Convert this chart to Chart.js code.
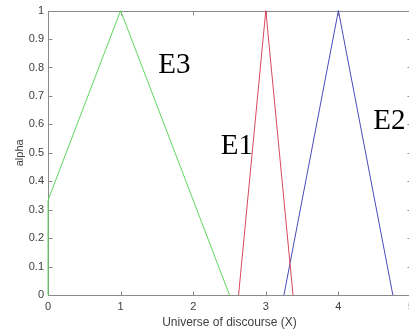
<!DOCTYPE html>
<html>
<head>
<meta charset="utf-8">
<script src="https://cdn.jsdelivr.net/npm/chart.js@4"></script>
<style>
  html, body { margin: 0; padding: 0; background: #fff; overflow: hidden; }
  #wrap { position: relative; width: 420px; height: 336px; }
</style>
</head>
<body>
<div id="wrap"><canvas id="c"></canvas></div>
<script>
// membership functions
const e3X = [0, 0, 1, 2.5];
const e3Y = [0, 0.333, 1, 0];
const e1X = [2.625, 3, 3.375];
const e1Y = [0, 1, 0];
const e2X = [3.25, 4, 4.75];
const e2Y = [0, 1, 0];

// text labels placed in data coordinates
const labelText = ['E3', 'E1', 'E2'];
const labelX = [1.52, 2.38, 4.48];
const labelY = [0.78, 0.497, 0.584];

const toPoints = (xs, ys) => xs.map((x, i) => ({ x, y: ys[i] }));

const axisColor = '#8a8a8a';

const frameAndTicks = {
  id: 'frameAndTicks',
  beforeDatasetsDraw(chart) {
    const { ctx, chartArea: a, scales: { x, y } } = chart;
    const L = Math.round(a.left) + 0.5, R = Math.round(a.right) + 0.5;
    const T = Math.round(a.top) + 0.5, B = Math.round(a.bottom) + 0.5;
    ctx.save();
    ctx.strokeStyle = axisColor;
    ctx.lineWidth = 1;
    ctx.beginPath();
    ctx.rect(L, T, R - L, B - T);
    x.ticks.forEach(t => {
      const px = Math.round(x.getPixelForValue(t.value)) + 0.5;
      ctx.moveTo(px, B); ctx.lineTo(px, B - 4);
      ctx.moveTo(px, T); ctx.lineTo(px, T + 4);
    });
    y.ticks.forEach(t => {
      const py = Math.round(y.getPixelForValue(t.value)) + 0.5;
      ctx.moveTo(L, py); ctx.lineTo(L + 4, py);
      ctx.moveTo(R, py); ctx.lineTo(R - 4, py);
    });
    ctx.stroke();
    ctx.restore();
  },
  afterDatasetsDraw(chart) {
    const { ctx, scales: { x, y } } = chart;
    ctx.save();
    ctx.fillStyle = '#000';
    ctx.font = '29px "Liberation Serif", "Times New Roman", serif';
    ctx.textBaseline = 'alphabetic';
    ctx.textAlign = 'left';
    labelText.forEach((s, i) => {
      ctx.fillText(s, x.getPixelForValue(labelX[i]), y.getPixelForValue(labelY[i]));
    });
    ctx.restore();
  }
};

const lineSet = (label, xs, ys, color) => ({
  label,
  data: toPoints(xs, ys),
  showLine: true,
  borderColor: color,
  borderWidth: 1,
  pointRadius: 0,
  tension: 0,
  fill: false,
  clip: 2
});

const tickFont = { family: '"Liberation Sans", Arial, sans-serif', size: 11 };

new Chart(document.getElementById('c'), {
  type: 'scatter',
  data: {
    datasets: [
      lineSet('E3', e3X, e3Y, '#5fd65f'),
      lineSet('E1', e1X, e1Y, '#d9475c'),
      lineSet('E2', e2X, e2Y, '#4a4ab8')
    ]
  },
  options: {
    responsive: true,
    maintainAspectRatio: false,
    animation: false,
    layout: { padding: { top: 9, right: 9, left: 0, bottom: 0 } },
    plugins: { legend: { display: false }, tooltip: { enabled: false } },
    scales: {
      x: {
        type: 'linear',
        min: 0, max: 5,
        grid: { display: false, drawTicks: false },
        border: { display: false },
        ticks: { stepSize: 1, padding: 5, color: '#404040', font: tickFont },
        title: { display: true, text: 'Universe of discourse (X)', color: '#404040', padding: { top: 0, bottom: 6 }, font: { family: tickFont.family, size: 12 } },
        afterFit(s) { s.height = 41; }
      },
      y: {
        min: 0, max: 1,
        grid: { display: false, drawTicks: false },
        border: { display: false },
        ticks: {
          stepSize: 0.1, padding: 4, color: '#404040', font: tickFont,
          callback: v => String(Number(v.toFixed(1)))
        },
        title: { display: true, text: 'alpha', color: '#404040', padding: { top: 13, bottom: 0 }, font: tickFont },
        afterFit(s) { s.width = 48; }
      }
    }
  },
  plugins: [frameAndTicks]
});
</script>
</body>
</html>
